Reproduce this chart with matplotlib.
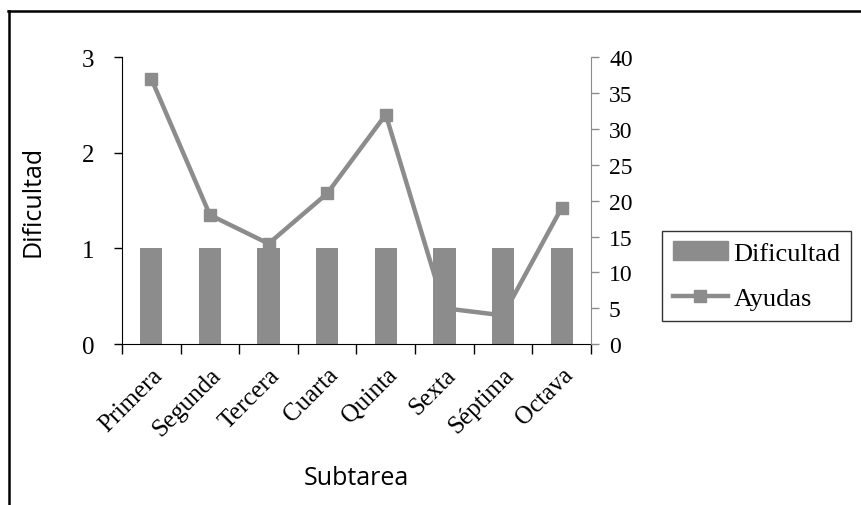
import matplotlib
matplotlib.use("Agg")
import matplotlib.pyplot as plt
from matplotlib.lines import Line2D
import numpy as np

# Datos por subtarea
subtareas = ["Primera", "Segunda", "Tercera", "Cuarta", "Quinta", "Sexta", "Séptima", "Octava"]
dificultad = [1, 1, 1, 1, 1, 1, 1, 1]
ayudas = [37, 18, 14, 21, 32, 5, 4, 19]

gris = "#8c8c8c"
serif = "Liberation Serif"
sans = "Open Sans"

fig = plt.figure(figsize=(8.62, 5.06), dpi=100)
ax = fig.add_axes([0.1415, 0.318, 0.5441, 0.567])
ax2 = ax.twinx()

x = np.arange(len(subtareas))
ax.bar(x, dificultad, width=0.38, color=gris, label="Dificultad", zorder=2)
ax2.plot(x, ayudas, color=gris, lw=3.2, marker="s", ms=8, label="Ayudas")

ax.set_xlim(-0.5, len(subtareas) - 0.5)
ax.set_ylim(0, 3)
ax2.set_ylim(0, 40)

# Eje izquierdo
ax.set_yticks([0, 1, 2, 3])
ax.tick_params(axis="y", direction="out", length=6, width=1, colors="black", pad=14)
for t in ax.get_yticklabels():
    t.set_fontfamily(serif)
    t.set_fontsize(18)
ax.set_ylabel("Dificultad", fontfamily=sans, fontsize=18, labelpad=26)

# Eje derecho
ax2.set_yticks(range(0, 41, 5))
ax2.tick_params(axis="y", direction="out", length=6, width=1, colors=gris, pad=7, labelcolor="black")
for t in ax2.get_yticklabels():
    t.set_fontfamily(serif)
    t.set_fontsize(17)

# Eje X: marcas entre categorias
ax.set_xticks(np.arange(-0.5, len(subtareas), 1.0))
ax.set_xticklabels([])
ax.set_xticks(x, minor=True)
ax.set_xticklabels(subtareas, minor=True, rotation=45, ha="right", rotation_mode="anchor",
                   fontfamily=serif, fontsize=18)
ax.tick_params(axis="x", which="major", direction="out", length=7, width=1)
ax.tick_params(axis="x", which="minor", length=0, pad=14)
ax.set_xlabel("Subtarea", fontfamily=sans, fontsize=18, labelpad=18)

for a in (ax, ax2):
    a.spines["top"].set_visible(False)
ax.spines["right"].set_visible(False)
ax2.spines["left"].set_visible(False)
ax2.spines["bottom"].set_visible(False)
ax2.spines["right"].set_color(gris)
ax.spines["left"].set_color("black")
ax.spines["bottom"].set_color("black")

# Leyenda
handles = [
    plt.Rectangle((0, 0), 1, 1, color=gris),
    Line2D([0], [0], color=gris, lw=3.2, marker="s", ms=8),
]
leg = fig.legend(handles, ["Dificultad", "Ayudas"], loc="center left",
                 bbox_to_anchor=(0.768, 0.453), frameon=True, fancybox=False,
                 prop={"family": serif, "size": 19}, handlelength=2.1,
                 handletextpad=0.2, labelspacing=0.85, borderpad=0.4, borderaxespad=0)
leg.get_frame().set_edgecolor("black")
leg.get_frame().set_linewidth(1)

# Marco exterior
fig.add_artist(Line2D([0.009, 1.0], [0.976, 0.976], color="black", lw=1.8, transform=fig.transFigure))
fig.add_artist(Line2D([0.0105, 0.0105], [0.0, 0.976], color="black", lw=1.8, transform=fig.transFigure))

fig.savefig("out.png", dpi=100)
plt.close(fig)
